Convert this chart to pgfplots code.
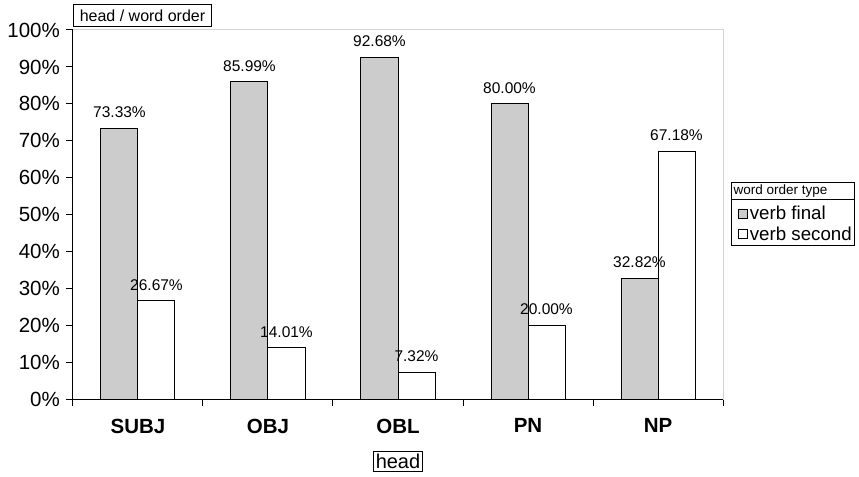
\documentclass[border=0pt]{standalone}
\usepackage{pgfplots}
\usepackage{pgfplotstable}
\pgfplotsset{compat=1.18}
\usepackage{fontspec}
\setmainfont{Liberation Sans}
\pgfkeys{/pgf/number format/assume math mode=true}

\definecolor{barfinal}{HTML}{CCCCCC}
\definecolor{frame}{HTML}{D4D4D4}

% share of each word order type per head category (percent)
\pgfplotstableread{
cat final second
0 73.33 26.67
1 85.99 14.01
2 92.68 7.32
3 80.00 20.00
4 32.82 67.18
}\wordorder

\begin{document}
\begin{tikzpicture}
\begin{axis}[
  scale only axis,
  width=650pt, height=369.5pt,
  xmin=-0.5, xmax=4.5, ymin=0, ymax=100,
  ybar=0pt, bar width=37pt,
  axis x line*=bottom, axis y line*=left,
  axis line style={black, line width=1pt, -},
  tick style={black, line width=1pt},
  tick align=outside, major tick length=6.5pt,
  xtick={-0.5,0.5,1.5,2.5,3.5,4.5}, xticklabels={},
  extra x ticks={0,1,2,3,4},
  extra x tick labels={SUBJ,OBJ,OBL,PN,NP},
  extra x tick style={major tick length=0pt,
    tick label style={font=\fontsize{20.5}{22}\selectfont\bfseries,
      inner sep=0pt, anchor=north, yshift=-19pt}},
  ytick={0,10,...,100},
  yticklabel={\pgfmathprintnumber[assume math mode=true]{\tick}\%},
  y tick label style={font=\fontsize{20.5}{22}\selectfont, inner sep=0pt, xshift=-6.5pt},
  nodes near coords={\pgfmathprintnumber[fixed,fixed zerofill,precision=2,assume math mode=true]{\pgfplotspointmeta}\%},
  every node near coord/.append style={font=\fontsize{15.5}{18}\selectfont, black,
    inner sep=0pt, yshift=10pt},
  legend style={name=leg, at={(rel axis cs:1.0138,0.5405)}, anchor=north west,
    draw=none, font=\fontsize{18.7}{21}\selectfont,
    inner xsep=6pt, inner ysep=4pt, row sep=1.5pt,
    cells={anchor=west, inner xsep=1.5pt, inner ysep=1.5pt}},
  legend cell align=left,
  legend image code/.code={\draw[#1, line width=0.7pt] (0pt,-4.5pt) rectangle (9pt,4.5pt);},
  clip=false,
]
\addplot[fill=barfinal, draw=black, line width=1pt] table[x=cat, y=final]{\wordorder};
\addplot[fill=white, draw=black, line width=1pt] table[x=cat, y=second]{\wordorder};
\legend{verb final, verb second}

% light frame on the top and right of the plot area
\draw[frame, line width=1pt] (rel axis cs:0,1) -- (rel axis cs:1,1) -- (rel axis cs:1,0);
\draw[black, line width=1pt] (rel axis cs:0,0) -- (rel axis cs:0,1);

\node[draw=black, line width=1pt, anchor=south west, inner sep=0pt,
  minimum width=138pt, minimum height=22pt,
  font=\fontsize{16}{19}\selectfont] at ([yshift=2.5pt]rel axis cs:0,1) {head / word order};
\node[draw=black, line width=1pt, anchor=north, inner sep=0pt,
  minimum width=49pt, minimum height=20pt,
  font=\fontsize{20}{22}\selectfont] at ([yshift=-51pt]rel axis cs:0.5,0) {head};

\coordinate (O) at (rel axis cs:0,0);
\coordinate (L) at (rel axis cs:1.0138,0.5405);
\end{axis}

% legend frame with its title row
\draw[black, line width=1pt] (L) rectangle ++(123pt,-45.7pt);
\draw[black, line width=1pt] (L) rectangle ++(123pt,17.6pt);
\node[anchor=west, inner sep=0pt, font=\fontsize{13.5}{15}\selectfont]
  at ([xshift=1.5pt, yshift=8.8pt]L) {word order type};

\pgfresetboundingbox
\path ([shift={(-73pt,-77pt)}]O) rectangle ([shift={(786pt,399.5pt)}]O);
\end{tikzpicture}
\end{document}
